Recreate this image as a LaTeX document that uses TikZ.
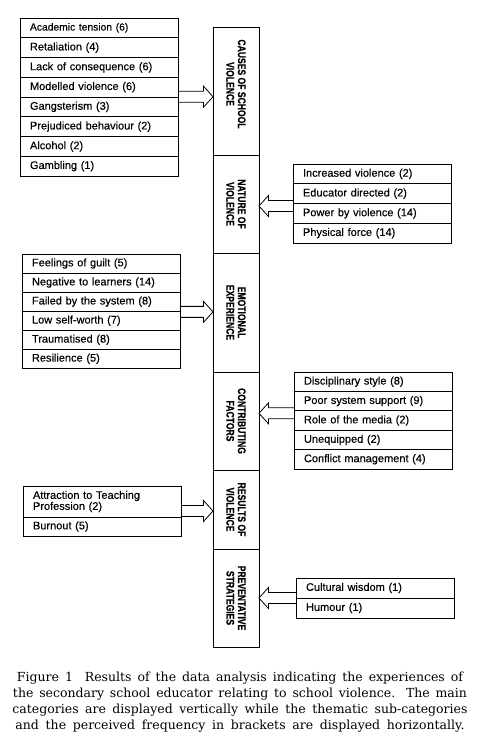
\documentclass[tikz,border=0pt]{standalone}
\usepackage{fontspec}
\setmainfont[FakeBold=0.25]{Liberation Sans}
\newfontfamily\capfont{DejaVu Serif}
\newfontfamily\catfont[FakeStretch=0.78,FakeBold=0.4]{Liberation Sans}
\usetikzlibrary{positioning,calc}
\newcommand\hollowarrow[4]{% #1 start node anchor, #2 tip anchor (x used), #3 y offset, #4 direction (+1 right, -1 left)
  \draw[arrowline] let \p1=($#1+(0,#3)$), \p2=#2, \n1={\x2-(#4)*9.5pt} in
    (\x1,\y1+5.5pt) -- (\n1,\y1+5.5pt) -- (\n1,\y1+10.5pt)
    -- (\x2,\y1) -- (\n1,\y1-10.5pt) -- (\n1,\y1-5.5pt) -- (\x1,\y1-5.5pt);}
\begin{document}
\begin{tikzpicture}[x=1pt,y=-1pt,
  sub/.style={draw, line width=0.9pt, outer sep=0pt, anchor=north west,
    minimum height=#1, text width=138pt, inner xsep=10pt, inner ysep=0pt,
    align=left, font=\fontsize{11}{11}\selectfont},
  cat/.style={draw, line width=0.9pt, outer sep=0pt, rotate=-90,
    minimum width=#1, minimum height=46pt, inner sep=0pt, align=center,
    font=\catfont\bfseries\fontsize{11}{11.5}\selectfont},
  arrowline/.style={line width=0.8pt, line join=miter},
  captext/.style={font=\capfont\fontsize{12.5}{16}\selectfont, align=center, inner sep=0pt}
]
\fill[white] (0,0) rectangle (480,742);
\useasboundingbox (0,0) rectangle (480,742);

% central column
\node[cat=128pt] (cat1) at (236,91) {CAUSES OF SCHOOL\hspace*{14pt}\\VIOLENCE\hspace*{14pt}};
\node[cat=98pt]  (cat2) at (236,204) {NATURE OF\\VIOLENCE};
\node[cat=119pt] (cat3) at (236,312.5) {EMOTIONAL\\EXPERIENCE};
\node[cat=98pt]  (cat4) at (236,421) {CONTRIBUTING\\FACTORS};
\node[cat=79pt]  (cat5) at (236,509.5) {RESULTS OF\\VIOLENCE};
\node[cat=98pt]  (cat6) at (236,598) {PREVENTATIVE\\STRATEGIES};

% causes
\node[sub=19.75pt] (b1r1) at (20,18) {\fontsize{10.3}{11}\selectfont Academic tension (6)};
\node[sub=19.75pt, below=0pt of b1r1] (b1r2) {Retaliation (4)};
\node[sub=19.75pt, below=0pt of b1r2] (b1r3) {Lack of consequence (6)};
\node[sub=19.75pt, below=0pt of b1r3] (b1r4) {Modelled violence (6)};
\node[sub=19.75pt, below=0pt of b1r4] (b1r5) {Gangsterism (3)};
\node[sub=19.75pt, below=0pt of b1r5] (b1r6) {Prejudiced behaviour (2)};
\node[sub=19.75pt, below=0pt of b1r6] (b1r7) {Alcohol (2)};
\node[sub=19.75pt, below=0pt of b1r7] (b1r8) {Gambling (1)};

% nature
\node[sub=19.75pt] (b2r1) at (293,164) {Increased violence (2)};
\node[sub=19.75pt, below=0pt of b2r1] (b2r2) {Educator directed (2)};
\node[sub=19.75pt, below=0pt of b2r2] (b2r3) {Power by violence (14)};
\node[sub=19.75pt, below=0pt of b2r3] (b2r4) {Physical force (14)};

% emotional
\node[sub=19.05pt] (b3r1) at (22,254) {Feelings of guilt (5)};
\node[sub=19.05pt, below=0pt of b3r1] (b3r2) {Negative to learners (14)};
\node[sub=19.05pt, below=0pt of b3r2] (b3r3) {Failed by the system (8)};
\node[sub=19.05pt, below=0pt of b3r3] (b3r4) {Low self-worth (7)};
\node[sub=19.05pt, below=0pt of b3r4] (b3r5) {Traumatised (8)};
\node[sub=19.05pt, below=0pt of b3r5] (b3r6) {Resilience (5)};

% contributing
\node[sub=19.4pt] (b4r1) at (294,372) {Disciplinary style (8)};
\node[sub=19.4pt, below=0pt of b4r1] (b4r2) {Poor system support (9)};
\node[sub=19.4pt, below=0pt of b4r2] (b4r3) {Role of the media (2)};
\node[sub=19.4pt, below=0pt of b4r3] (b4r4) {Unequipped (2)};
\node[sub=19.4pt, below=0pt of b4r4] (b4r5) {Conflict management (4)};

% results
\node[sub=31pt] (b5r1) at (23,486) {Attraction to Teaching\\Profession (2)};
\node[sub=19pt, below=0pt of b5r1] (b5r2) {Burnout (5)};

% preventative
\node[sub=20pt] (b6r1) at (296,578) {Cultural wisdom (1)};
\node[sub=20pt, below=0pt of b6r1] (b6r2) {Humour (1)};

% arrows
\hollowarrow{(b1r4.south east)}{(cat1.south)}{-0.3}{1}
\hollowarrow{(b2r2.south west)}{(cat2.north)}{2.5}{-1}
\hollowarrow{(b3r3.south east)}{(cat3.south)}{0.7}{1}
\hollowarrow{(b4r3.north west)}{(cat4.north)}{2.5}{-1}
\hollowarrow{(b5r1.south east)}{(cat5.south)}{-6}{1}
\hollowarrow{(b6r1.south west)}{(cat6.north)}{0}{-1}

% caption
\node[captext] (cap) at (240,702) {%
\makebox[446pt][s]{Figure 1\ \ Results of the data analysis indicating the experiences of}\\
\makebox[454pt][s]{the secondary school educator relating to school violence. The main}\\
\makebox[455pt][s]{categories are displayed vertically while the thematic sub-categories}\\
\makebox[449pt][s]{and the perceived frequency in brackets are displayed horizontally.}};
\end{tikzpicture}
\end{document}
